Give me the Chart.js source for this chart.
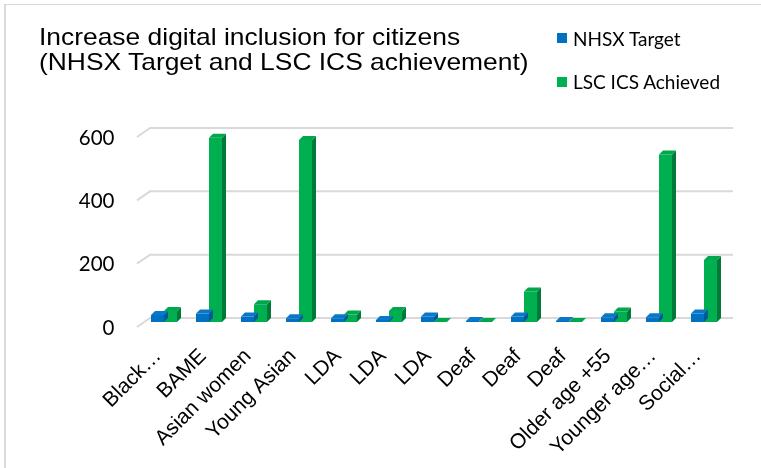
<!DOCTYPE html>
<html>
<head>
<meta charset="utf-8">
<script src="https://cdn.jsdelivr.net/npm/chart.js@4/dist/chart.umd.min.js"></script>
<style>
  html, body { margin:0; padding:0; background:#fff; }
  #wrap { position:relative; width:761px; height:468px; overflow:hidden; }
  #c { position:absolute; left:0; top:0; }
  #frame { position:absolute; left:4px; top:4px; right:-10px; bottom:-10px; border-left:2px solid #d9d9d9; border-top:1px solid #d9d9d9; pointer-events:none; }
  #title { position:absolute; left:39px; top:25.4px; font-family:"Liberation Sans", Arial, sans-serif; font-size:24px; line-height:24.5px; color:#000; transform:scaleX(1.1); transform-origin:0 0; white-space:nowrap; }
  #legend { position:absolute; left:557px; top:0; font-family:Lato, "Open Sans", sans-serif; font-size:19px; color:#000; }
  .li { position:absolute; left:0; height:24px; display:flex; align-items:center; white-space:nowrap; }
  .sw { width:10px; height:10px; margin-right:6px; flex:none; }
</style>
</head>
<body>
<div id="wrap">
  <canvas id="c" width="761" height="468"></canvas>
  <div id="frame"></div>
  <div id="title">Increase digital inclusion for citizens<br>(NHSX Target and LSC ICS achievement)</div>
  <div id="legend"></div>
</div>
<script>
// ---- data ----
const categories = ['Black\u2026','BAME','Asian women','Young Asian','LDA','LDA','LDA','Deaf','Deaf','Deaf','Older age +55','Younger age\u2026','Social\u2026'];
const nhsxTarget = [22, 27, 17, 12, 12, 6, 17, 3, 17, 3, 15, 15, 27];
const lscAchieved = [35, 582, 56, 575, 24, 35, 0, 0, 96, 0, 33, 529, 196];
const seriesNames = ['NHSX Target', 'LSC ICS Achieved'];
const yTicks = [0, 200, 400, 600];

// ---- styles ----
const frontColors = ['#0070C0', '#00B050'];
const topColors = ['#0a78c8', '#00a84c'];
const sideColors = ['#005896', '#007a38'];
const DEPTH = 4;

// legend (HTML)
const legendEl = document.getElementById('legend');
const legendY = [26.3, 69.7];
seriesNames.forEach((n, i) => {
  const d = document.createElement('div');
  d.className = 'li';
  d.style.top = legendY[i] + 'px';
  d.innerHTML = '<span class="sw" style="background:' + frontColors[i] + '"></span><span>' + n + '</span>';
  legendEl.appendChild(d);
});

const bar3d = {
  id: 'bar3d',
  beforeDatasetsDraw(chart) {
    const ctx = chart.ctx, ys = chart.scales.y, ca = chart.chartArea;
    ctx.save();
    ctx.strokeStyle = '#d9d9d9';
    ctx.lineWidth = 2;
    yTicks.forEach(v => {
      const yv = ys.getPixelForValue(v);
      ctx.beginPath();
      ctx.moveTo(ca.left - 4.5, yv + 5);
      ctx.lineTo(ca.left + 8.5, yv - 4);
      ctx.lineTo(ca.right + 6.5, yv - 4);
      ctx.stroke();
    });
    ctx.restore();
  },
  afterDatasetDraw(chart, args) {
    const ctx = chart.ctx, i = args.index, d = DEPTH;
    ctx.save();
    args.meta.data.forEach(bar => {
      const p = bar.getProps(['x', 'y', 'base', 'width'], true);
      const l = p.x - p.width / 2, r = p.x + p.width / 2;
      ctx.fillStyle = sideColors[i];
      ctx.beginPath();
      ctx.moveTo(r, p.y); ctx.lineTo(r + d, p.y - d); ctx.lineTo(r + d, p.base - d); ctx.lineTo(r, p.base);
      ctx.closePath(); ctx.fill();
      ctx.fillStyle = topColors[i];
      ctx.beginPath();
      ctx.moveTo(l, p.y); ctx.lineTo(r, p.y); ctx.lineTo(r + d, p.y - d); ctx.lineTo(l + d, p.y - d);
      ctx.closePath(); ctx.fill();
    });
    ctx.restore();
  }
};

new Chart(document.getElementById('c'), {
  type: 'bar',
  data: {
    labels: categories,
    datasets: [
      { label: seriesNames[0], data: nhsxTarget, backgroundColor: frontColors[0], borderWidth: 0 },
      { label: seriesNames[1], data: lscAchieved, backgroundColor: frontColors[1], borderWidth: 0 }
    ]
  },
  options: {
    responsive: false,
    animation: false,
    devicePixelRatio: 1,
    layout: { padding: { left: 0, right: 34.5, top: 132, bottom: 0 } },
    datasets: { bar: { categoryPercentage: 26 / 45, barPercentage: 1 } },
    plugins: { legend: { display: false }, title: { display: false }, tooltip: { enabled: false } },
    scales: {
      x: {
        grid: { display: false, drawTicks: false },
        border: { display: false },
        afterFit(s) { s.height = 146; },
        ticks: {
          autoSkip: false, minRotation: 45, maxRotation: 45,
          color: '#000', padding: 22, labelOffset: -6,
          font: { family: '"Liberation Sans", Arial, sans-serif', size: 21 }
        }
      },
      y: {
        min: 0, max: 600,
        grid: { display: false, drawTicks: false },
        border: { display: false },
        afterFit(s) { s.width = 141.5; },
        afterBuildTicks(s) { s.ticks = yTicks.map(v => ({ value: v })); },
        ticks: {
          color: '#000', padding: 27, labelOffset: 6,
          font: { family: 'Lato, "Open Sans", sans-serif', size: 20.5 }
        }
      }
    }
  },
  plugins: [bar3d]
});
</script>
</body>
</html>
